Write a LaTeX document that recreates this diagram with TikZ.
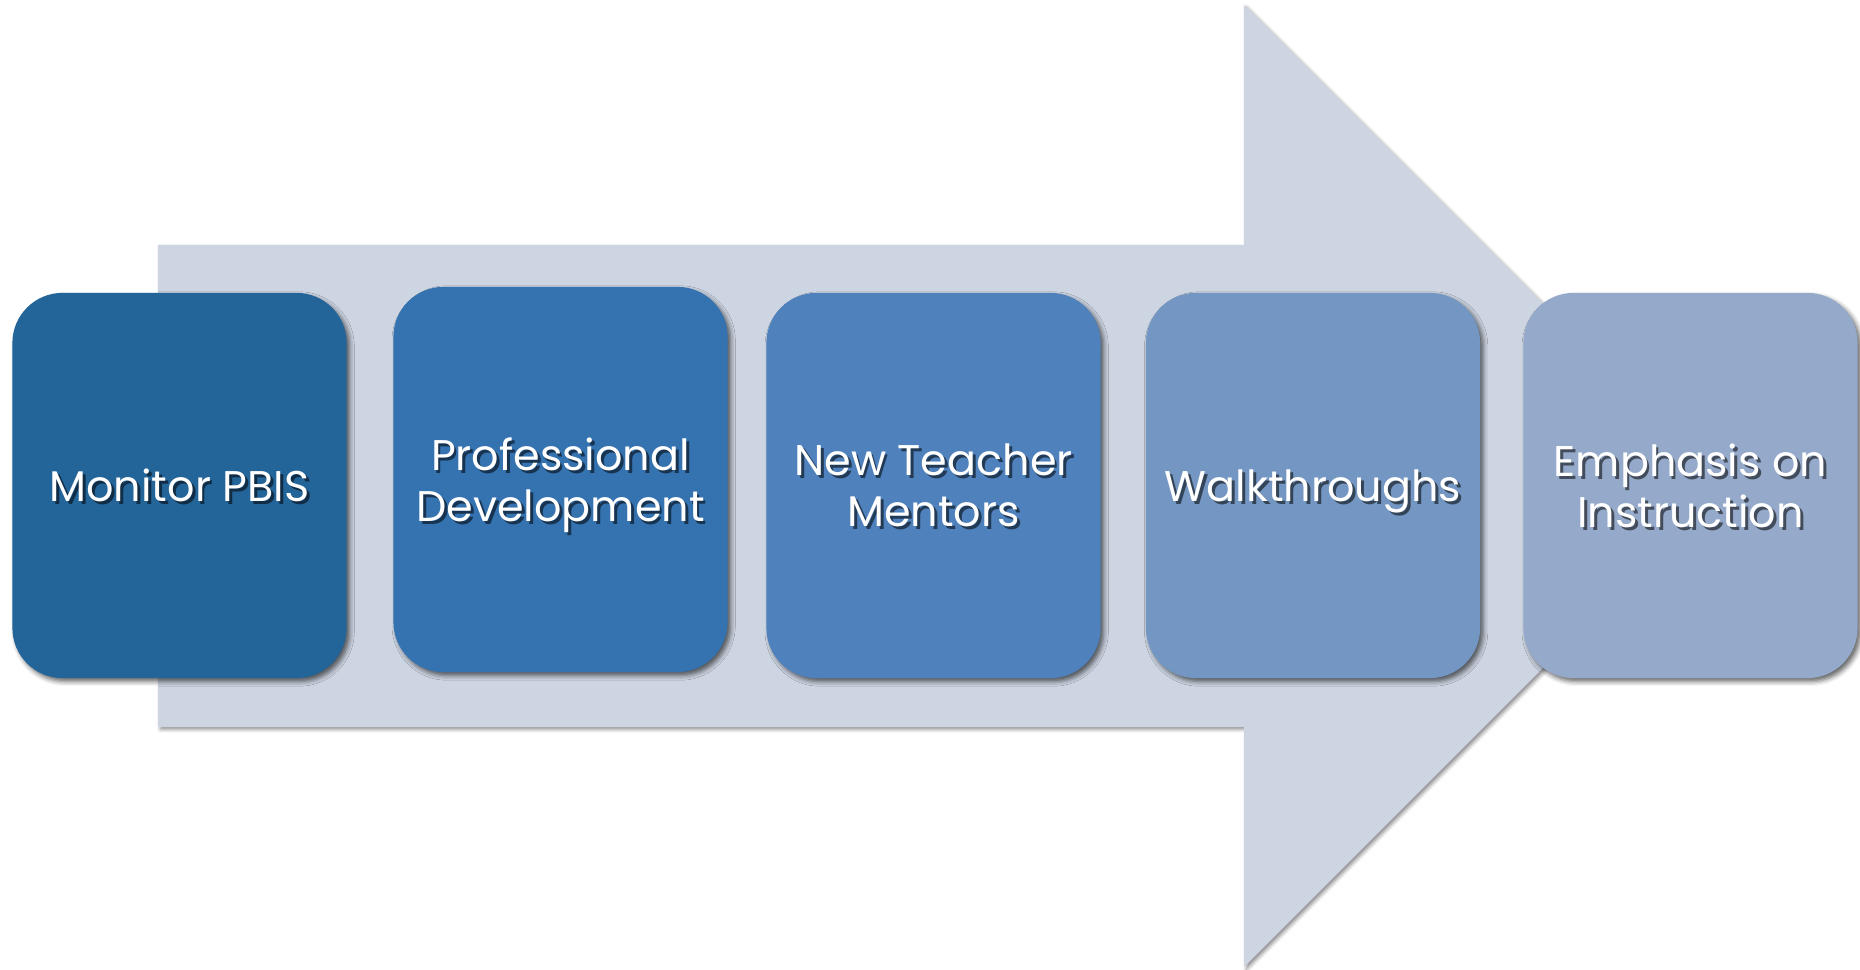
\documentclass[tikz,border=0pt]{standalone}
\usepackage{fontspec}
\setmainfont{Poppins}
\usepackage{tikz}
\usetikzlibrary{shadows.blur}
\definecolor{stepA}{HTML}{236499}
\definecolor{stepB}{HTML}{3472B0}
\definecolor{stepC}{HTML}{4F81BD}
\definecolor{stepD}{HTML}{7496C2}
\definecolor{stepE}{HTML}{95AACA}
\definecolor{arrowgray}{HTML}{CDD5E2}
\newcommand{\shtxt}[2]{\rlap{\kern.8pt\raisebox{-.8pt}{\textcolor{#1!45!black}{#2}}}#2}

\begin{document}
\begin{tikzpicture}[x=0.01cm, y=-0.01cm,
		arrow_style/.style={fill=arrowgray,blur shadow={shadow xshift=.7pt,shadow yshift=-.7pt,shadow blur radius=1pt,shadow opacity=45}},
		node_style/.style={rectangle,rounded corners=0.5cm,minimum width=3.34cm,minimum height=3.85cm,
			fill=#1,text=white,align=center,text depth=0pt,font=\fontsize{12.2}{14.5}\selectfont,
			blur shadow={shadow xshift=.9pt,shadow yshift=-1pt,shadow blur radius=1.3pt,shadow opacity=60}}]

	\useasboundingbox (0,0) rectangle (1860,970);

	\path[arrow_style] (158,245) -- (1244,245) -- (1244,5) -- (1725,486) -- (1244,967) -- (1244,727) -- (158,727) -- cycle;

	\node[node_style=stepA] (n1) at (179.5,485.5) {\shtxt{stepA}{Monitor PBIS}};
	\node[node_style=stepB] (n2) at (560.5,479.5) {\shtxt{stepB}{Professional}\\\shtxt{stepB}{Development}};
	\node[node_style=stepC] (n3) at (933.5,485.5) {\shtxt{stepC}{New Teacher}\\\shtxt{stepC}{Mentors}};
	\node[node_style=stepD] (n4) at (1313,485.5) {\shtxt{stepD}{Walkthroughs}};
	\node[node_style=stepE] (n5) at (1690.5,485.5) {\shtxt{stepE}{Emphasis on}\\\shtxt{stepE}{Instruction}};
\end{tikzpicture}
\end{document}
